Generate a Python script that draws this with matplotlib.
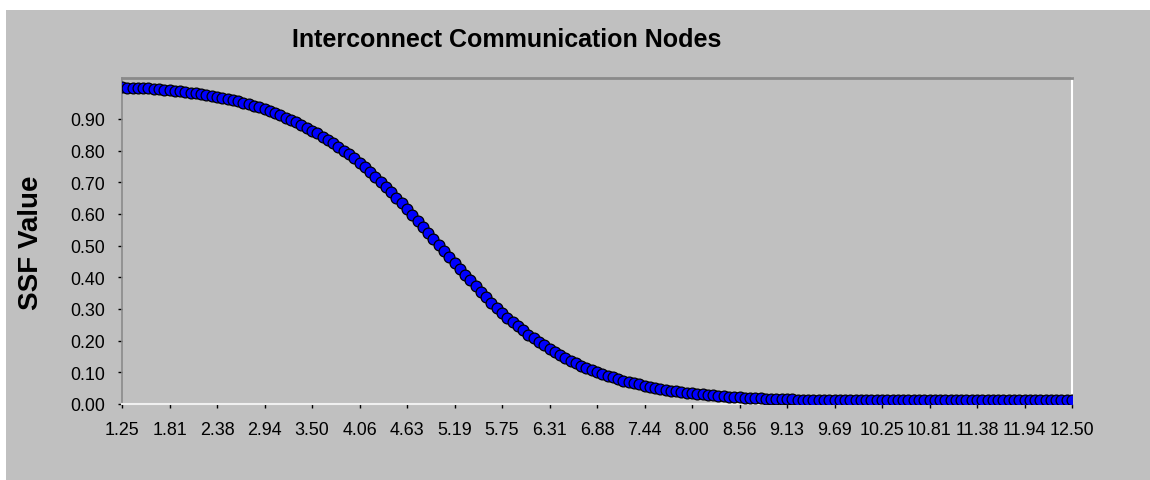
import numpy as np
import matplotlib
matplotlib.use("Agg")
import matplotlib.pyplot as plt
from matplotlib.patches import Rectangle
from matplotlib import font_manager

title = "Interconnect Communication Nodes"
y_label = "SSF Value"

x_first = 1.25
x_last = 12.5
n_points = 181

ssf_values = [
    1.000, 0.999, 0.999, 0.998, 0.997, 0.996, 0.995, 0.994, 0.992, 0.990,
    0.989, 0.987, 0.985, 0.983, 0.981, 0.979, 0.976, 0.973, 0.970, 0.967,
    0.963, 0.959, 0.955, 0.951, 0.946, 0.941, 0.936, 0.930, 0.924, 0.918,
    0.911, 0.904, 0.897, 0.889, 0.881, 0.872, 0.863, 0.854, 0.844, 0.834,
    0.823, 0.812, 0.800, 0.788, 0.775, 0.762, 0.748, 0.733, 0.717, 0.701,
    0.685, 0.668, 0.651, 0.633, 0.615, 0.596, 0.577, 0.558, 0.539, 0.520,
    0.501, 0.482, 0.463, 0.444, 0.426, 0.408, 0.390, 0.372, 0.354, 0.337,
    0.320, 0.304, 0.288, 0.273, 0.259, 0.245, 0.232, 0.219, 0.207, 0.196,
    0.185, 0.175, 0.165, 0.155, 0.146, 0.137, 0.129, 0.121, 0.114, 0.107,
    0.101, 0.095, 0.089, 0.084, 0.079, 0.074, 0.070, 0.066, 0.062, 0.058,
    0.055, 0.051, 0.048, 0.045, 0.042, 0.040, 0.038, 0.036, 0.034, 0.032,
    0.030, 0.029, 0.027, 0.026, 0.025, 0.023, 0.022, 0.021, 0.020, 0.019,
    0.018, 0.018, 0.017, 0.016, 0.016, 0.015, 0.015, 0.015, 0.014, 0.014,
    0.014, 0.013, 0.013, 0.013, 0.013, 0.013, 0.013, 0.013, 0.013, 0.013,
    0.013, 0.012, 0.012, 0.012, 0.012, 0.012, 0.012, 0.012, 0.012, 0.012,
    0.012, 0.012, 0.012, 0.012, 0.012, 0.012, 0.012, 0.012, 0.012, 0.012,
    0.012, 0.012, 0.012, 0.012, 0.012, 0.012, 0.012, 0.012, 0.012, 0.012,
    0.012, 0.012, 0.012, 0.012, 0.012, 0.012, 0.012, 0.012, 0.012, 0.012,
    0.012,
]

x_tick_labels = ["1.25", "1.81", "2.38", "2.94", "3.50", "4.06", "4.63",
                 "5.19", "5.75", "6.31", "6.88", "7.44", "8.00", "8.56",
                 "9.13", "9.69", "10.25", "10.81", "11.38", "11.94", "12.50"]
y_ticks = [0.0, 0.1, 0.2, 0.3, 0.4, 0.5, 0.6, 0.7, 0.8, 0.9]
y_tick_labels = ["0.00", "0.10", "0.20", "0.30", "0.40", "0.50", "0.60",
                 "0.70", "0.80", "0.90"]

avail = {f.name for f in font_manager.fontManager.ttflist}
base_font = "Liberation Sans" if "Liberation Sans" in avail else "DejaVu Sans"
plt.rcParams["font.family"] = [base_font, "DejaVu Sans"]

W, H = 1150, 481
fig = plt.figure(figsize=(W / 100, H / 100), dpi=100, facecolor="white")
fig.patches.append(Rectangle((6 / W, 0), 1 - 6 / W, (H - 11) / H,
                             transform=fig.transFigure, facecolor="#c0c0c0",
                             edgecolor="none", zorder=-10))

ax = fig.add_axes([122 / W, 1 - 405 / H, 950 / W, 326 / H])
ax.set_facecolor("#c0c0c0")

x = np.linspace(x_first, x_last, n_points)
ax.plot(x, ssf_values, color="#0000ff", lw=1, marker="o", ms=7.8,
        mfc="#0000ff", mec="black", mew=0.9, zorder=3)

ax.set_xlim(x_first, x_last)
ax.set_ylim(0, 1.029)
ax.set_xticks(x[::9])
ax.set_xticklabels(x_tick_labels)
ax.set_yticks(y_ticks)
ax.set_yticklabels(y_tick_labels)

ax.tick_params(axis="both", direction="out", length=3, width=1, color="black",
               labelsize=12.9, labelcolor="#000000")
ax.tick_params(axis="y", pad=9.5)
ax.tick_params(axis="x", pad=9)

ax.spines["left"].set_color("#8a8a8a")
ax.spines["left"].set_linewidth(1.2)
ax.spines["top"].set_color("#8a8a8a")
ax.spines["top"].set_linewidth(2)
ax.spines["right"].set_color("white")
ax.spines["right"].set_linewidth(1.5)
ax.spines["bottom"].set_color("#f0f0f0")
ax.spines["bottom"].set_linewidth(1.5)

fig.text(507 / W, 1 - 40 / H, title, ha="center", va="center",
         fontsize=18, fontweight="bold")
fig.text(31 / W, 1 - 243 / H, y_label, ha="center", va="center",
         rotation=90, fontsize=20, fontweight="bold")

fig.savefig("out.png", dpi=100, facecolor="white")
